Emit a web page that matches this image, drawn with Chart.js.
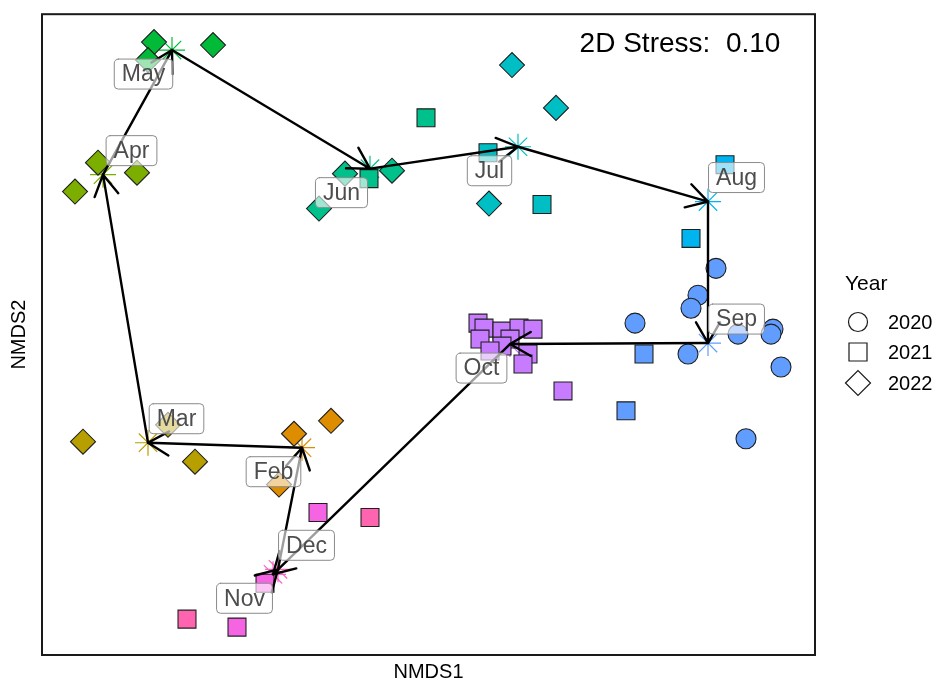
<!DOCTYPE html>
<html>
<head>
<meta charset="utf-8">
<script src="https://cdn.jsdelivr.net/npm/chart.js@4"></script>
<style>
  html, body { margin: 0; padding: 0; background: #fff; }
  #wrap { width: 938px; height: 682px; }
</style>
</head>
<body>
<div id="wrap"><canvas id="nmdsChart"></canvas></div>
<script>
// ===== Data =====
const months = ['Feb', 'Mar', 'Apr', 'May', 'Jun', 'Jul', 'Aug', 'Sep', 'Oct', 'Nov', 'Dec'];
const monthColors = ['#DE8C00', '#B79F00', '#7CAE00', '#00BA38', '#00C08B', '#00BFC4',
                     '#00B4F0', '#619CFF', '#C77CFF', '#F564E3', '#FF64B0'];

// month centroids (NMDS1, NMDS2)
const centroidX = [-0.253, -0.561, -0.651, -0.513, -0.117, 0.179, 0.559, 0.559, 0.163, -0.311, -0.301];
const centroidY = [-0.227, -0.217, 0.321, 0.571, 0.333, 0.377, 0.267, -0.017, -0.019, -0.481, -0.471];

// order the centroids are joined in
const pathOrder = ['Sep', 'Oct', 'Nov', 'Dec', 'Feb', 'Mar', 'Apr', 'May', 'Jun', 'Jul', 'Aug', 'Sep'];

// 2020 samples (circles)
const month2020 = ['Sep', 'Sep', 'Sep', 'Sep', 'Sep', 'Sep', 'Sep', 'Sep', 'Sep', 'Sep'];
const x2020 = [0.575, 0.539, 0.525, 0.413, 0.519, 0.619, 0.689, 0.685, 0.705, 0.635];
const y2020 = [0.133, 0.079, 0.053, 0.023, -0.039, 0.001, 0.011, 0.001, -0.065, -0.209];

// 2021 samples (squares)
const month2021 = ['Sep', 'Sep', 'Aug', 'Aug', 'Jul', 'Jul', 'Jun', 'Jun',
                   'Oct', 'Oct', 'Oct', 'Oct', 'Oct', 'Oct', 'Oct', 'Oct', 'Oct', 'Oct', 'Oct', 'Oct',
                   'Nov', 'Nov', 'Nov', 'Dec', 'Dec'];
const x2021 = [0.431, 0.395, 0.593, 0.525, 0.119, 0.227, -0.005, -0.119,
               0.099, 0.111, 0.103, 0.147, 0.181, 0.209, 0.163, 0.147, 0.123, 0.199, 0.189, 0.269,
               -0.221, -0.327, -0.383, -0.117, -0.483];
const y2021 = [-0.039, -0.153, 0.341, 0.193, 0.365, 0.261, 0.435, 0.313,
               0.023, 0.013, -0.009, 0.007, 0.013, 0.011, -0.009, -0.023, -0.033, -0.039, -0.059, -0.113,
               -0.357, -0.499, -0.587, -0.367, -0.571];

// 2022 samples (diamonds)
const month2022 = ['Feb', 'Feb', 'Feb', 'Mar', 'Mar', 'Mar', 'Apr', 'Apr', 'Apr',
                   'May', 'May', 'May', 'Jun', 'Jun', 'Jun', 'Jul', 'Jul', 'Jul'];
const x2022 = [-0.269, -0.195, -0.299, -0.691, -0.467, -0.521, -0.661, -0.583, -0.707,
               -0.549, -0.431, -0.561, -0.167, -0.073, -0.219, 0.167, 0.255, 0.121];
const y2022 = [-0.199, -0.173, -0.301, -0.215, -0.255, -0.181, 0.345, 0.325, 0.287,
               0.587, 0.581, 0.551, 0.323, 0.329, 0.253, 0.541, 0.455, 0.263];

const years = ['2020', '2021', '2022'];
const stressText = '2D Stress:  0.10';

// ===== Styling =====
const FONT = '"Liberation Sans", Arial, sans-serif';
const colorOf = m => monthColors[months.indexOf(m)];
// which corner of its centroid each month label sits on
const labelSideX = [-1, 1, 1, -1, -1, -1, 1, 1, -1, -1, 1];
const labelSideY = [1, -1, -1, 1, 1, 1, -1, -1, 1, 1, -1];

function yearDataset(label, xs, ys, ms, style, radius) {
  return {
    label: label,
    data: xs.map((x, i) => ({ x: x, y: ys[i] })),
    pointStyle: style,
    pointRadius: radius,
    pointHoverRadius: radius,
    backgroundColor: ms.map(colorOf),
    borderColor: '#1f1f1f',
    borderWidth: 1.1,
    showLine: false,
    order: 1
  };
}

// arrows, labels, panel frame, stress text and the shape legend
const overlayPlugin = {
  id: 'overlay',
  afterDatasetsDraw(chart) {
    const ctx = chart.ctx;
    const xs = chart.scales.x, ys = chart.scales.y;
    const px = i => xs.getPixelForValue(centroidX[i]);
    const py = i => ys.getPixelForValue(centroidY[i]);
    ctx.save();

    // arrows between consecutive months
    ctx.strokeStyle = '#000';
    ctx.lineWidth = 2.4;
    ctx.lineCap = 'round';
    for (let k = 0; k < pathOrder.length - 1; k++) {
      const a = months.indexOf(pathOrder[k]), b = months.indexOf(pathOrder[k + 1]);
      const x0 = px(a), y0 = py(a), x1 = px(b), y1 = py(b);
      const ang = Math.atan2(y1 - y0, x1 - x0);
      ctx.beginPath();
      ctx.moveTo(x0, y0);
      ctx.lineTo(x1, y1);
      [-1, 1].forEach(s => {
        const t = ang + Math.PI + s * Math.PI / 6;
        ctx.moveTo(x1, y1);
        ctx.lineTo(x1 + 24 * Math.cos(t), y1 + 24 * Math.sin(t));
      });
      ctx.stroke();
    }

    // month labels
    ctx.font = '23px ' + FONT;
    ctx.textAlign = 'center';
    ctx.textBaseline = 'middle';
    months.forEach((m, i) => {
      const cx = px(i) + labelSideX[i] * 28.5;
      const cy = py(i) + labelSideY[i] * 24;
      const w = ctx.measureText(m).width + 15, h = 30;
      ctx.beginPath();
      ctx.roundRect(cx - w / 2, cy - h / 2, w, h, 4);
      ctx.fillStyle = 'rgba(255,255,255,0.62)';
      ctx.fill();
      ctx.strokeStyle = '#8a8a8a';
      ctx.lineWidth = 1;
      ctx.stroke();
      ctx.fillStyle = '#4d4d4d';
      ctx.fillText(m, cx, cy + 1);
    });

    // panel frame
    const ca = chart.chartArea;
    ctx.strokeStyle = '#1a1a1a';
    ctx.lineWidth = 2;
    ctx.strokeRect(ca.left, ca.top, ca.right - ca.left, ca.bottom - ca.top);

    // stress annotation
    ctx.fillStyle = '#000';
    ctx.font = '28px ' + FONT;
    ctx.fillText(stressText, ca.right - 135, ca.top + 30);

    // legend for year shapes
    const lx = ca.right + 43, rows = [322, 352, 383];
    ctx.textAlign = 'left';
    ctx.font = '21px ' + FONT;
    ctx.fillText('Year', ca.right + 30, 284);
    ctx.font = '20px ' + FONT;
    ctx.strokeStyle = '#1a1a1a';
    ctx.lineWidth = 1.2;
    years.forEach((yr, i) => {
      const y = rows[i];
      ctx.beginPath();
      if (i === 0) ctx.arc(lx, y, 9.5, 0, Math.PI * 2);
      else if (i === 1) ctx.rect(lx - 9, y - 9, 18, 18);
      else { ctx.moveTo(lx - 12.5, y); ctx.lineTo(lx, y - 12.5); ctx.lineTo(lx + 12.5, y); ctx.lineTo(lx, y + 12.5); ctx.closePath(); }
      ctx.stroke();
      ctx.fillText(yr, ca.right + 73, y + 1);
    });
    ctx.restore();
  }
};

const ctx = document.getElementById('nmdsChart').getContext('2d');
const nmdsChart = new Chart(ctx, {
  type: 'scatter',
  data: {
    datasets: [
      yearDataset('2020', x2020, y2020, month2020, 'circle', 10),
      yearDataset('2021', x2021, y2021, month2021, 'rect', 12.7),
      yearDataset('2022', x2022, y2022, month2022, 'rectRot', 12.5),
      {
        label: 'centroid',
        data: centroidX.map((x, i) => ({ x: x, y: centroidY[i] })),
        pointStyle: 'star',
        pointRadius: 13,
        pointHoverRadius: 13,
        borderColor: monthColors,
        backgroundColor: monthColors,
        borderWidth: 1.2,
        showLine: false,
        order: 2
      }
    ]
  },
  options: {
    responsive: true,
    maintainAspectRatio: false,
    devicePixelRatio: 1,
    animation: false,
    layout: { padding: { left: 0, top: 12, right: 123, bottom: 0 } },
    plugins: {
      legend: { display: false },
      tooltip: { enabled: false }
    },
    scales: {
      x: {
        min: -0.773, max: 0.773,
        grid: { display: false, drawTicks: false },
        border: { display: false },
        ticks: { display: false },
        title: {
          display: true, text: 'NMDS1', color: '#000',
          font: { family: FONT, size: 20, lineHeight: 0.8 },
          padding: { top: 9.5, bottom: 1.5 }
        }
      },
      y: {
        min: -0.643, max: 0.643,
        grid: { display: false, drawTicks: false },
        border: { display: false },
        ticks: { display: false },
        title: {
          display: true, text: 'NMDS2', color: '#000',
          font: { family: FONT, size: 20, lineHeight: 0.8 },
          padding: { top: 11, bottom: 15 }
        }
      }
    }
  },
  plugins: [overlayPlugin]
});
</script>
</body>
</html>
